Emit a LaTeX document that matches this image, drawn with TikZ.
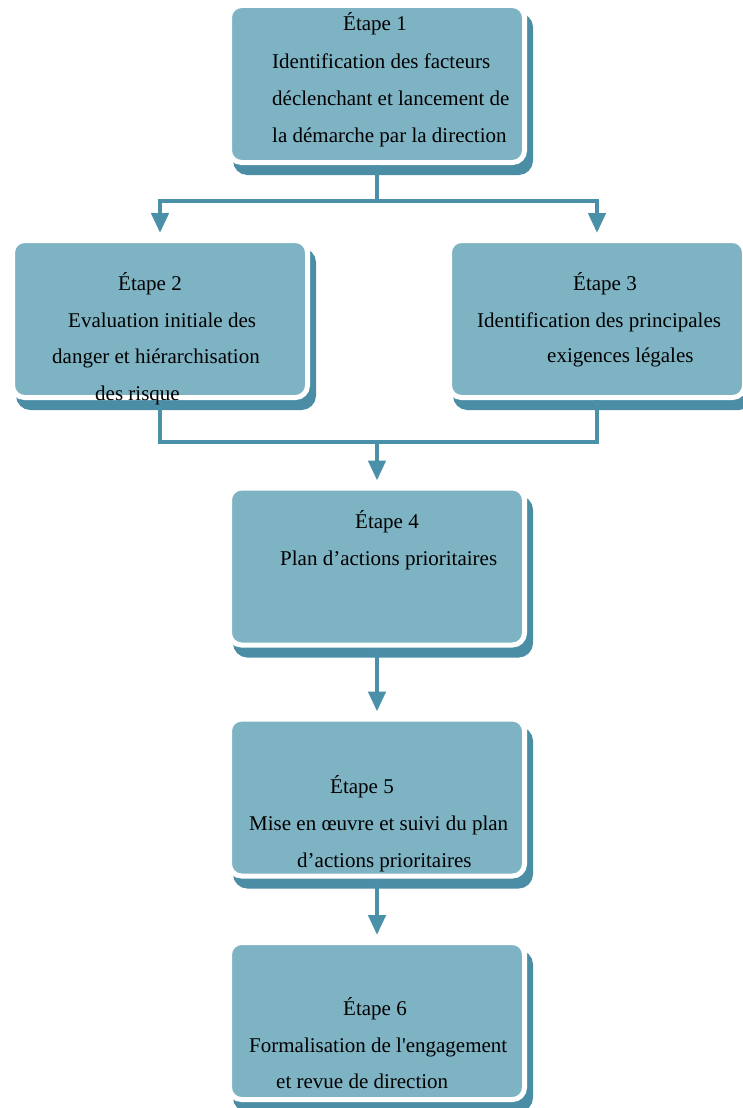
\documentclass[tikz,border=0pt]{standalone}
\usepackage{fontspec}
\setmainfont{Liberation Serif}
\usetikzlibrary{arrows.meta,shadows}
\definecolor{boxc}{HTML}{7EB3C4}
\definecolor{linec}{HTML}{4A90A8}
\definecolor{shadc}{HTML}{4A8DA5}
\begin{document}
\begin{tikzpicture}[x=1pt,y=-1pt,
  stepbox/.style={draw=white, line width=5pt, fill=boxc, rounded corners=12pt,
    minimum width=295pt, minimum height=157pt, inner sep=0pt,
    general shadow={fill=shadc, draw=shadc, line width=5pt, shadow xshift=6pt, shadow yshift=-10pt}},
  txt/.style={anchor=base west, inner sep=0pt, font=\fontsize{21}{25}\selectfont},
  conn/.style={draw=linec, line width=4.5pt},
  arr/.style={conn, -{Triangle[width=17pt,length=20pt]}, shorten >=5pt}]
\useasboundingbox (0,0) rectangle (742,1108);
\fill[white] (0,0) rectangle (742,1108);
% boxes
\node[stepbox] (b1) at (377,84) {};
\node[stepbox] (b2) at (160,319) {};
\node[stepbox] (b3) at (597,319) {};
\node[stepbox] (b4) at (377,566.5) {};
\node[stepbox] (b5) at (377,797.5) {};
\node[stepbox] (b6) at (377,1021) {};
% junctions
\coordinate (j1) at (377,201);
\coordinate (j2) at (377,442);
% connectors
\draw[conn] (b1.south) -- (j1);
\draw[arr] (j1) -| (b2.north);
\draw[arr] (j1) -| (b3.north);
\draw[conn] (b2.south) |- (j2) -| (b3.south);
\draw[arr] (j2) -- (b4.north);
\draw[arr] (b4.south) -- (b5.north);
\draw[arr] (b5.south) -- (b6.north);
% texts
\node[txt] (t11) at (343,31) {Étape 1};
\node[txt] (t12) at (272,68) {Identification des facteurs};
\node[txt] (t13) at (272,105) {déclenchant et lancement de};
\node[txt] (t14) at (272,142) {la démarche par la direction};
\node[txt] (t21) at (118,290) {Étape 2};
\node[txt] (t22) at (68,327) {Evaluation initiale des};
\node[txt] (t23) at (52,363) {danger et hiérarchisation};
\node[txt] (t24) at (95,400) {des risque};
\node[txt] (t31) at (573,290) {Étape 3};
\node[txt] (t32) at (477,327) {Identification des principales};
\node[txt] (t33) at (547,362) {exigences légales};
\node[txt] (t41) at (355,528) {Étape 4};
\node[txt] (t42) at (280,565) {Plan d’actions prioritaires};
\node[txt] (t51) at (330,793) {Étape 5};
\node[txt] (t52) at (249,830) {Mise en œuvre et suivi du plan};
\node[txt] (t53) at (297,867) {d’actions prioritaires};
\node[txt] (t61) at (343,1015) {Étape 6};
\node[txt] (t62) at (249,1052) {Formalisation de l\textquotesingle engagement};
\node[txt] (t63) at (276,1088) {et revue de direction};
\end{tikzpicture}
\end{document}
